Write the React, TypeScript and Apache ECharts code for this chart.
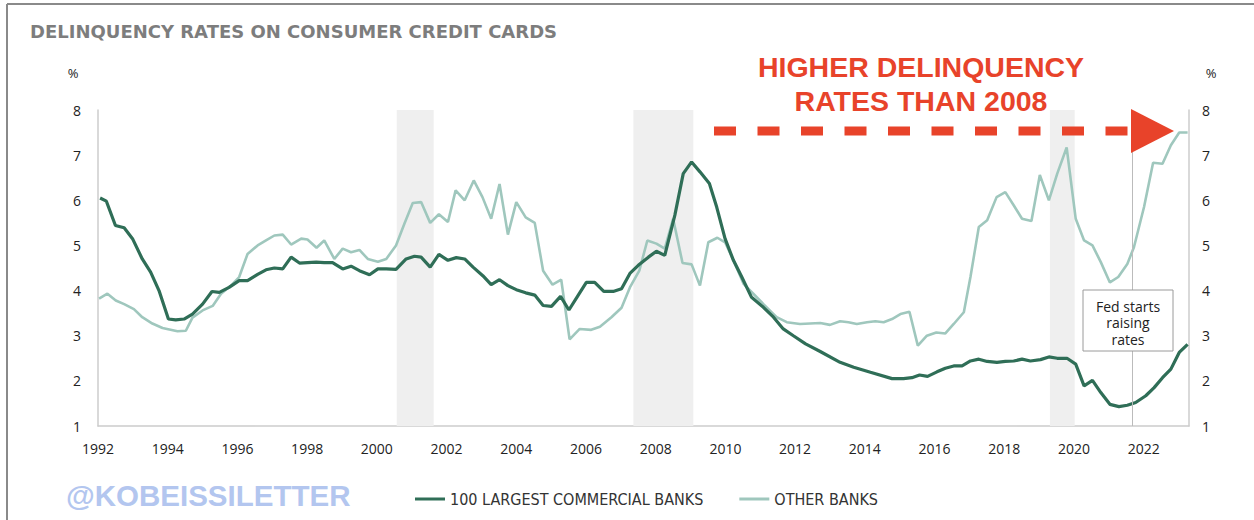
import React, { useEffect, useRef } from "react";
import * as echarts from "echarts";

const TITLE = "DELINQUENCY RATES ON CONSUMER CREDIT CARDS";
const SERIES_NAMES = ["100 LARGEST COMMERCIAL BANKS", "OTHER BANKS"];

// [decimal year, % delinquency]
const largestBanks: [number, number][] = [
  [1992.06, 6.05], [1992.24, 5.98], [1992.5, 5.44], [1992.75, 5.39], [1992.99, 5.15],
  [1993.27, 4.7], [1993.51, 4.41], [1993.75, 4.0], [1994.02, 3.37], [1994.23, 3.35],
  [1994.47, 3.37], [1994.71, 3.48], [1995.0, 3.7], [1995.27, 3.98], [1995.48, 3.96],
  [1995.76, 4.07], [1996.05, 4.22], [1996.29, 4.22], [1996.58, 4.36], [1996.82, 4.46],
  [1997.06, 4.5], [1997.3, 4.48], [1997.54, 4.74], [1997.78, 4.61], [1998.01, 4.62],
  [1998.26, 4.63], [1998.49, 4.62], [1998.73, 4.62], [1999.02, 4.48], [1999.26, 4.54],
  [1999.5, 4.44], [1999.79, 4.35], [2000.03, 4.48], [2000.27, 4.48], [2000.55, 4.47],
  [2000.84, 4.7], [2001.08, 4.76], [2001.27, 4.74], [2001.53, 4.52], [2001.78, 4.8],
  [2002.04, 4.67], [2002.28, 4.73], [2002.52, 4.7], [2002.76, 4.52], [2003.04, 4.33],
  [2003.28, 4.13], [2003.52, 4.24], [2003.76, 4.11], [2004.0, 4.02], [2004.27, 3.95],
  [2004.53, 3.9], [2004.77, 3.67], [2005.01, 3.65], [2005.27, 3.87], [2005.51, 3.57],
  [2005.77, 3.89], [2006.01, 4.18], [2006.25, 4.18], [2006.51, 3.98], [2006.78, 3.98],
  [2007.02, 4.04], [2007.26, 4.38], [2007.5, 4.56], [2007.79, 4.74], [2008.02, 4.87],
  [2008.26, 4.78], [2008.55, 5.67], [2008.79, 6.59], [2009.03, 6.85], [2009.27, 6.63],
  [2009.54, 6.37], [2009.75, 5.85], [2009.99, 5.15], [2010.23, 4.67], [2010.47, 4.3],
  [2010.75, 3.85], [2011.09, 3.63], [2011.38, 3.41], [2011.66, 3.15], [2011.95, 3.0],
  [2012.3, 2.82], [2012.72, 2.65], [2013.29, 2.41], [2013.68, 2.3], [2014.16, 2.19],
  [2014.78, 2.05], [2015.11, 2.05], [2015.35, 2.07], [2015.57, 2.13], [2015.8, 2.1],
  [2016.07, 2.2], [2016.31, 2.28], [2016.55, 2.33], [2016.79, 2.33], [2017.03, 2.44],
  [2017.27, 2.48], [2017.51, 2.43], [2017.79, 2.41], [2018.03, 2.43], [2018.27, 2.44],
  [2018.51, 2.48], [2018.75, 2.44], [2019.04, 2.47], [2019.28, 2.53], [2019.52, 2.5],
  [2019.8, 2.5], [2020.05, 2.37], [2020.29, 1.89], [2020.53, 2.01], [2020.77, 1.74],
  [2021.03, 1.48], [2021.29, 1.43], [2021.53, 1.46], [2021.77, 1.52], [2022.06, 1.67],
  [2022.3, 1.85], [2022.54, 2.07], [2022.78, 2.26], [2023.02, 2.63], [2023.26, 2.81],
];

const otherBanks: [number, number][] = [
  [1992.03, 3.82], [1992.27, 3.93], [1992.51, 3.78], [1992.75, 3.7], [1993.03, 3.59],
  [1993.27, 3.41], [1993.56, 3.27], [1993.85, 3.17], [1994.28, 3.1], [1994.52, 3.11],
  [1994.71, 3.4], [1995.0, 3.56], [1995.29, 3.66], [1995.53, 3.93], [1995.8, 4.1],
  [1996.05, 4.3], [1996.29, 4.81], [1996.58, 5.0], [1996.82, 5.11], [1997.06, 5.22],
  [1997.3, 5.24], [1997.54, 5.02], [1997.83, 5.15], [1998.01, 5.13], [1998.27, 4.95],
  [1998.49, 5.11], [1998.78, 4.7], [1999.02, 4.93], [1999.26, 4.85], [1999.5, 4.9],
  [1999.74, 4.7], [2000.03, 4.64], [2000.27, 4.7], [2000.55, 5.0], [2000.79, 5.48],
  [2001.03, 5.94], [2001.27, 5.96], [2001.53, 5.5], [2001.78, 5.69], [2002.04, 5.52],
  [2002.26, 6.22], [2002.52, 6.0], [2002.78, 6.44], [2003.03, 6.07], [2003.28, 5.59],
  [2003.52, 6.36], [2003.76, 5.24], [2004.0, 5.96], [2004.27, 5.62], [2004.53, 5.5],
  [2004.77, 4.44], [2005.04, 4.13], [2005.29, 4.24], [2005.53, 2.92], [2005.82, 3.15],
  [2006.15, 3.13], [2006.4, 3.2], [2006.73, 3.41], [2007.02, 3.62], [2007.26, 4.07],
  [2007.53, 4.44], [2007.76, 5.11], [2008.02, 5.04], [2008.26, 4.93], [2008.5, 5.59],
  [2008.77, 4.61], [2009.03, 4.58], [2009.27, 4.11], [2009.51, 5.07], [2009.77, 5.17],
  [2009.99, 5.07], [2010.23, 4.67], [2010.52, 4.15], [2010.8, 3.93], [2011.09, 3.7],
  [2011.47, 3.41], [2011.76, 3.3], [2012.14, 3.26], [2012.43, 3.27], [2012.72, 3.28],
  [2013.0, 3.24], [2013.29, 3.32], [2013.53, 3.3], [2013.77, 3.26], [2014.06, 3.3],
  [2014.3, 3.32], [2014.54, 3.3], [2014.78, 3.37], [2015.02, 3.48], [2015.28, 3.53],
  [2015.52, 2.78], [2015.78, 3.0], [2016.05, 3.07], [2016.31, 3.05], [2016.55, 3.26],
  [2016.84, 3.52], [2017.03, 4.3], [2017.27, 5.41], [2017.51, 5.56], [2017.78, 6.07],
  [2018.03, 6.18], [2018.27, 5.89], [2018.51, 5.59], [2018.78, 5.54], [2019.02, 6.56],
  [2019.28, 6.0], [2019.52, 6.59], [2019.79, 7.17], [2020.05, 5.59], [2020.29, 5.11],
  [2020.53, 5.0], [2020.77, 4.63], [2021.03, 4.18], [2021.27, 4.3], [2021.53, 4.59],
  [2021.72, 4.96], [2022.01, 5.85], [2022.27, 6.83], [2022.54, 6.81], [2022.78, 7.22],
  [2023.02, 7.5], [2023.26, 7.5],
];

// recession shading periods [start, end] in decimal years
const recessions: [number, number][] = [
  [2000.57, 2001.63],
  [2007.36, 2009.08],
  [2019.31, 2020.02],
];
const fedHikeStart = 2021.66;
const fedNoteLines = ["Fed starts", "raising", "rates"];

const X_MIN = 1992;
const X_MAX = 2023.3;
const Y_MIN = 1;
const Y_MAX = 8;

const DARK = "#2f6e57";
const LIGHT = "#9fc7bd";
const RED = "#e8432a";

export default function App() {
  const ref = useRef<HTMLDivElement>(null);
  useEffect(() => {
    if (!ref.current) return;
    const chart = echarts.init(ref.current, undefined, { renderer: "svg" });
    const font = "'Open Sans', sans-serif";
    const yAxisBase = {
      type: "value" as const,
      min: Y_MIN,
      max: Y_MAX,
      interval: 1,
      splitLine: { show: false },
      axisTick: { show: false },
      axisLine: { show: true, lineStyle: { color: "#cccccc", width: 1.5 } },
      axisLabel: { color: "#222", fontSize: 14, fontFamily: font },
    };
    chart.setOption({
      animation: false,
      backgroundColor: "#ffffff",
      title: {
        text: TITLE,
        left: 25,
        top: 17,
        textStyle: { fontFamily: "'DejaVu Sans', sans-serif", fontWeight: "bold", fontSize: 18, color: "#7d7d7d" },
      },
      legend: {
        data: [
          { name: SERIES_NAMES[0], icon: "rect", itemStyle: { color: DARK } },
          { name: SERIES_NAMES[1], icon: "rect", itemStyle: { color: LIGHT } },
        ],
        left: 410,
        top: 486,
        itemWidth: 30,
        itemHeight: 3,
        itemGap: 36,
        textStyle: { fontFamily: "'DejaVu Sans Condensed', 'DejaVu Sans', sans-serif", fontSize: 16, color: "#333" },
      },
      grid: { left: 98, right: 65, top: 110, bottom: 94 },
      xAxis: {
        type: "value",
        min: X_MIN,
        max: X_MAX,
        interval: 2,
        splitLine: { show: false },
        axisTick: { show: false },
        axisLine: { show: true, lineStyle: { color: "#cccccc", width: 1.5 } },
        axisLabel: {
          color: "#222",
          fontSize: 14,
          fontFamily: font,
          margin: 15,
          showMaxLabel: false,
          formatter: (v: number) => (Number.isInteger(v) && v % 2 === 0 ? String(v) : ""),
        },
      },
      yAxis: [
        { ...yAxisBase, position: "left", axisLabel: { ...yAxisBase.axisLabel, margin: 17 } },
        { ...yAxisBase, position: "right", axisLabel: { ...yAxisBase.axisLabel, margin: 13 } },
      ],
      series: [
        {
          name: "helper",
          type: "line",
          data: [],
          z: 1,
          silent: true,
          markArea: {
            silent: true,
            itemStyle: { color: "#efefef" },
            data: recessions.map(([a, b]) => [{ xAxis: a }, { xAxis: b }]),
          },
          markLine: {
            silent: true,
            symbol: "none",
            label: { show: false },
            lineStyle: { color: "#bbbbbb", width: 1, type: "solid" },
            data: [{ xAxis: fedHikeStart }],
          },
        },
        {
          name: SERIES_NAMES[1],
          type: "line",
          data: otherBanks,
          showSymbol: false,
          symbol: "none",
          lineStyle: { color: LIGHT, width: 2.6 },
          itemStyle: { color: LIGHT },
          z: 2,
        },
        {
          name: SERIES_NAMES[0],
          type: "line",
          data: largestBanks,
          showSymbol: false,
          symbol: "none",
          lineStyle: { color: DARK, width: 3.2 },
          itemStyle: { color: DARK },
          z: 3,
        },
      ],
      graphic: [
        { type: "line", shape: { x1: 7, y1: 4, x2: 1254, y2: 4 }, style: { stroke: "#8a8a8a", lineWidth: 2 }, z: 10 },
        { type: "line", shape: { x1: 7, y1: 4, x2: 7, y2: 520 }, style: { stroke: "#8a8a8a", lineWidth: 2 }, z: 10 },
        { type: "text", x: 73, y: 73, style: { text: "%", fontSize: 13, fontFamily: font, fill: "#222", align: "center", verticalAlign: "middle" } },
        { type: "text", x: 1211, y: 73, style: { text: "%", fontSize: 13, fontFamily: font, fill: "#222", align: "center", verticalAlign: "middle" } },
        {
          type: "text", x: 921, y: 67,
          style: { text: "HIGHER DELINQUENCY", fontSize: 28.5, fontWeight: "bold", fontFamily: "'Liberation Sans', Arial, sans-serif", fill: RED, align: "center", verticalAlign: "middle" },
        },
        {
          type: "text", x: 921, y: 101,
          style: { text: "RATES THAN 2008", fontSize: 28.5, fontWeight: "bold", fontFamily: "'Liberation Sans', Arial, sans-serif", fill: RED, align: "center", verticalAlign: "middle" },
        },
        {
          type: "line", shape: { x1: 714, y1: 131, x2: 1132, y2: 131 },
          style: { stroke: RED, lineWidth: 9, lineDash: [22, 21.5] }, z: 20,
        },
        {
          type: "polygon", shape: { points: [[1131, 109], [1174, 131], [1131, 153]] },
          style: { fill: RED }, z: 20,
        },
        {
          type: "rect", shape: { x: 1083, y: 290, width: 90, height: 61 },
          style: { fill: "#ffffff", stroke: "#9a9a9a", lineWidth: 1 }, z: 15,
        },
        ...fedNoteLines.map((t, i) => ({
          type: "text", x: 1128, y: 306 + i * 16.5, z: 16,
          style: { text: t, fontSize: 14, fontFamily: font, fill: "#222", align: "center", verticalAlign: "middle" },
        })),
        {
          type: "text", x: 66, y: 495,
          style: { text: "@KOBEISSILETTER", fontSize: 29.5, fontWeight: "bold", fontFamily: "'Liberation Sans', Arial, sans-serif", fill: "#b3c6ef", verticalAlign: "middle" },
        },
      ],
    });
    return () => chart.dispose();
  }, []);
  return <div ref={ref} style={{ position: "fixed", left: 0, top: 0, width: 1254, height: 520 }} />;
}
